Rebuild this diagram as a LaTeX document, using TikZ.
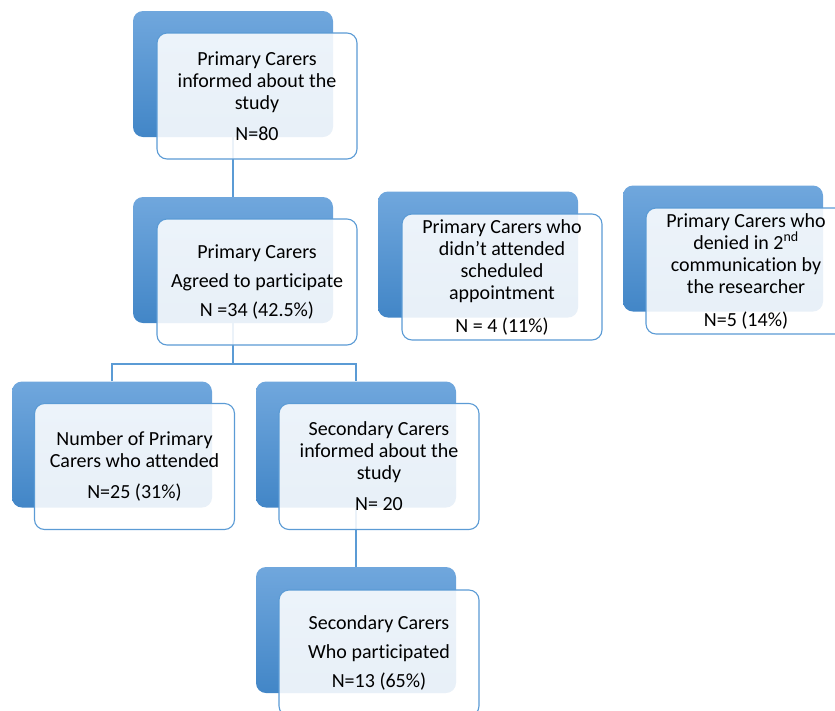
\documentclass[tikz,border=0pt]{standalone}
\usepackage{fontspec}
\setmainfont{Carlito}[Ligatures={NoCommon,NoContextual}]
\usetikzlibrary{backgrounds}
\definecolor{edgeblue}{RGB}{91,155,213}
\definecolor{shadetop}{RGB}{112,167,221}
\definecolor{shadebot}{RGB}{66,134,199}
\begin{document}
\begin{tikzpicture}[x=1pt,y=-1pt,
  backcard/.style={rectangle, rounded corners=10pt, minimum width=200pt,
    minimum height=126pt, inner sep=0pt, top color=shadetop, bottom color=shadebot, draw=none},
  frontcard/.style={rectangle, rounded corners=10pt, minimum width=200pt,
    minimum height=126pt, inner sep=0pt, draw=edgeblue, line width=1.1pt,
    fill=white, fill opacity=0.88, text opacity=1, align=center,
    font=\fontsize{20pt}{22pt}\selectfont},
  link/.style={draw=edgeblue, line width=1.1pt}]
\useasboundingbox (0,0) rectangle (835,710);

% back cards
\node[backcard] (b1back) at (233,74) {};
\node[backcard] (b2back) at (233,260) {};
\node[backcard] (b3back) at (478,254.5) {};
\node[backcard] (b4back) at (723,248.5) {};
\node[backcard] (b5back) at (112,444.5) {};
\node[backcard] (b6back) at (356,444.5) {};
\node[backcard] (b7back) at (356,630) {};

% front cards with the labels
\node[frontcard] (b1) at (257,96) {Primary Carers\\informed about the\\study\\[9pt]N=80};
\node[frontcard] (b2) at (257,282) {Primary Carers\\[7pt]Agreed to participate\\[7pt]N =34 (42.5\%)};
\node[frontcard] (b3) at (502,277) {Primary Carers who\\didn’t attended\\scheduled\\appointment\\[11pt]N = 4 (11\%)};
\node[frontcard] (b4) at (746,271) {Primary Carers who\\denied in 2\textsuperscript{nd}\\communication by\\the researcher\\[11pt]N=5 (14\%)};
\node[frontcard] (b5) at (134.5,466.5) {Number of Primary\\Carers who attended\\[9pt]N=25 (31\%)};
\node[frontcard] (b6) at (379,466.5) {Secondary Carers\\informed about the\\study\\[9pt]N= 20};
\node[frontcard] (b7) at (379,653) {Secondary Carers\\[7pt]Who participated\\[7pt]N=13 (65\%)};

% connectors behind the cards
\coordinate (split) at (0,364);
\begin{scope}[on background layer]
\draw[link] (b1back.south) -- (b2back.north);
\draw[link] (b2back.south) -- (b2back.south |- split);
\draw[link] (b5back.north) -- (b5back.north |- split) -- (b6back.north |- split) -- (b6back.north);
\draw[link] (b6back.south) -- (b7back.north);
\end{scope}
\end{tikzpicture}
\end{document}
